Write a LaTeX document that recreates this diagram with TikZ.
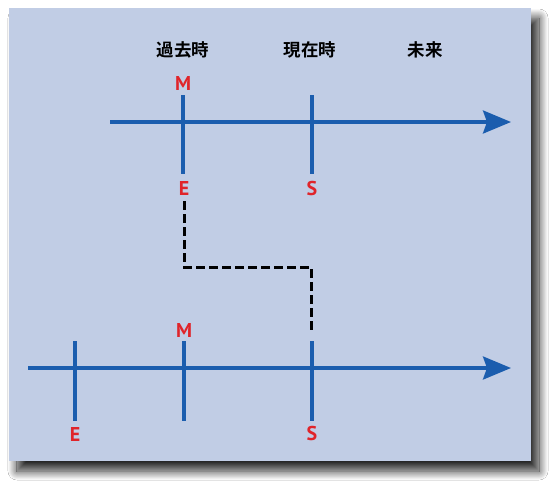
\documentclass[tikz,border=0pt]{standalone}
\usepackage{fontspec}
\setmainfont{PT Sans}
\newfontfamily\cjkfont{Noto Sans CJK JP}[BoldFont={* Bold}]
\usetikzlibrary{arrows.meta,shadows.blur}
\definecolor{bgcol}{HTML}{C1CDE5}
\definecolor{axisblue}{HTML}{1B5DAE}
\definecolor{lblred}{HTML}{E0242A}
\tikzset{
  axisline/.style={axisblue, line width=3.3pt, -{Stealth[length=28pt,width=23pt,inset=4pt]}},
  tickline/.style={axisblue, line width=3.1pt},
  letterlbl/.style={text=lblred, font=\bfseries\fontsize{20}{20}\selectfont, inner sep=0pt},
  headlbl/.style={text=black, font=\cjkfont\bfseries\fontsize{17.5}{17.5}\selectfont, inner sep=0pt},
  pathline/.style={draw=black, line width=3pt, dash pattern=on 8.5pt off 4.5pt}
}
\begin{document}
\begin{tikzpicture}[x=1pt,y=-1pt]
\useasboundingbox (0,0) rectangle (553,483);
\fill[white] (0,0) rectangle (553,483);
\fill[bgcol, blur shadow={shadow xshift=8pt, shadow yshift=-10pt, shadow blur radius=9pt, shadow blur steps=20, shadow opacity=85}] (9,8) rectangle (531,461);
% headers
\node[headlbl] (past) at (183,50) {過去時};
\node[headlbl] (present) at (310,50) {現在時};
\node[headlbl] (future) at (425,50) {未来};
% top axis
\coordinate (a1s) at (110,122);
\coordinate (a1e) at (511,122);
\draw[axisline] (a1s) -- (a1e);
\coordinate (t1a) at (183,95); \coordinate (t1b) at (183,174);
\coordinate (t2a) at (312,95); \coordinate (t2b) at (312,174);
\draw[tickline] (t1a) -- (t1b);
\draw[tickline] (t2a) -- (t2b);
\node[letterlbl] (M1) at (183,83) {M};
\node[letterlbl] (E1) at (184,188) {E};
\node[letterlbl] (S1) at (312,188) {S};
% bottom axis
\coordinate (a2s) at (28,368);
\coordinate (a2e) at (511,368);
\draw[axisline] (a2s) -- (a2e);
\coordinate (u1a) at (75,341); \coordinate (u1b) at (75,421);
\coordinate (u2a) at (184,341); \coordinate (u2b) at (184,421);
\coordinate (u3a) at (312,341); \coordinate (u3b) at (312,421);
\draw[tickline] (u1a) -- (u1b);
\draw[tickline] (u2a) -- (u2b);
\draw[tickline] (u3a) -- (u3b);
\node[letterlbl] (M2) at (184,330) {M};
\node[letterlbl] (E2) at (75,434) {E};
\node[letterlbl] (S2) at (312,433) {S};
% dashed connector
\coordinate (d1) at (184,201);
\coordinate (d2) at (184,267);
\coordinate (d3) at (311,267);
\coordinate (d4) at (311,333);
\draw[pathline] (d1) -- (d2) -- (d3) -- (d4);
\end{tikzpicture}
\end{document}
